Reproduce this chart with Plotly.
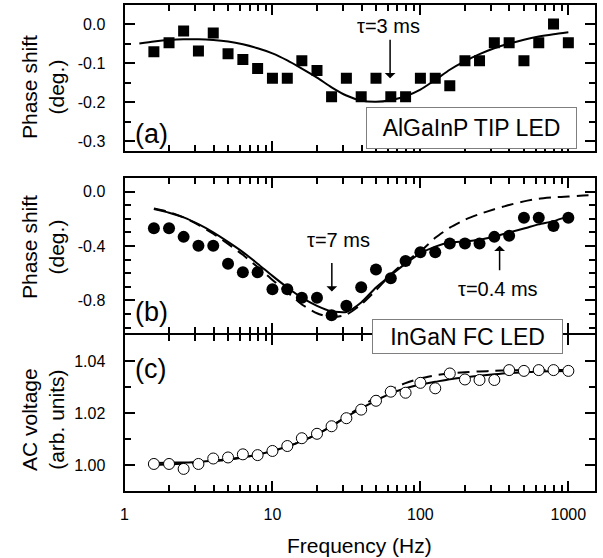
import math
import plotly.graph_objects as go

# ---------------- data ----------------
# measurement frequencies (Hz)
freq = [1.58, 2.0, 2.51, 3.16, 3.98, 5.01, 6.31, 7.94, 10.0, 12.6, 15.8, 20.0, 25.1,
        31.6, 39.8, 50.1, 63.1, 79.4, 100.0, 126.0, 158.0, 200.0, 251.0, 316.0,
        398.0, 501.0, 631.0, 794.0, 1000.0]

# (a) AlGaInP TIP LED phase shift (deg.)
phase_tip = [-0.071, -0.048, -0.018, -0.069, -0.023, -0.076, -0.091, -0.114, -0.139,
             -0.139, -0.094, -0.119, -0.186, -0.139, -0.186, -0.139, -0.186, -0.186,
             -0.139, -0.139, -0.158, -0.094, -0.094, -0.048, -0.048, -0.094, -0.048,
             0.0, -0.048]

# (b) InGaN FC LED phase shift (deg.)
phase_fc = [-0.27, -0.27, -0.333, -0.398, -0.398, -0.53, -0.593, -0.593, -0.718,
            -0.718, -0.781, -0.781, -0.909, -0.839, -0.703, -0.573, -0.638, -0.511,
            -0.446, -0.446, -0.381, -0.381, -0.381, -0.333, -0.325, -0.193, -0.193,
            -0.253, -0.193]

# (c) InGaN FC LED AC voltage (arb. units)
acv_fc = [1.0004, 1.0004, 0.9985, 1.0004, 1.0025, 1.0029, 1.0041, 1.0038, 1.0054,
          1.0073, 1.0103, 1.0120, 1.0149, 1.0180, 1.0213, 1.0247, 1.0282, 1.0278,
          1.0316, 1.0295, 1.0352, 1.0329, 1.0327, 1.0327, 1.0365, 1.0362, 1.0365,
          1.0365, 1.0362]

# model curves
fit_freq_a = [1.26, 1.58, 2.0, 2.51, 3.16, 3.98, 5.01, 6.31, 7.94, 10.0, 12.6, 15.8,
              20.0, 25.1, 31.6, 39.8, 50.1, 63.1, 79.4, 100.0, 126.0, 158.0, 200.0,
              251.0, 316.0, 398.0, 501.0, 631.0, 794.0, 1000.0]
fit_a = [-0.050, -0.045, -0.041, -0.039, -0.039, -0.041, -0.045, -0.052, -0.062, -0.075,
         -0.093, -0.114, -0.137, -0.162, -0.183, -0.196, -0.199, -0.195, -0.185, -0.168,
         -0.143, -0.117, -0.095, -0.077, -0.062, -0.050, -0.040, -0.032, -0.026, -0.021]

fit_freq_b = [1.58, 2.0, 2.51, 3.16, 3.98, 5.01, 6.31, 7.94, 10.0, 12.6, 15.8, 20.0,
              25.1, 31.6, 39.8, 50.1, 63.1, 79.4, 100.0, 126.0, 158.0, 200.0, 251.0,
              316.0, 398.0, 501.0, 631.0, 794.0, 1000.0]
fit_b_two = [-0.128, -0.155, -0.190, -0.240, -0.300, -0.370, -0.445, -0.530, -0.620,
             -0.705, -0.780, -0.840, -0.880, -0.885, -0.815, -0.705, -0.615, -0.530,
             -0.455, -0.405, -0.374, -0.366, -0.354, -0.330, -0.300, -0.272, -0.241,
             -0.217, -0.180]
dash_freq_b = [1.58, 2.0, 2.51, 3.16, 3.98, 5.01, 6.31, 7.94, 10.0, 12.6, 15.8, 20.0,
               25.1, 31.6, 39.8, 50.1, 63.1, 79.4, 100.0, 126.0, 158.0, 200.0, 251.0,
               316.0, 398.0, 501.0, 631.0, 794.0, 1000.0, 1259.0, 1514.0]
fit_b_one = [-0.125, -0.150, -0.190, -0.245, -0.310, -0.385, -0.465, -0.555, -0.650,
             -0.740, -0.830, -0.895, -0.925, -0.905, -0.830, -0.725, -0.610, -0.515,
             -0.440, -0.340, -0.265, -0.207, -0.165, -0.130, -0.098, -0.072, -0.052,
             -0.042, -0.036, -0.029, -0.024]

fit_freq_c = fit_freq_b
fit_c_two = [1.0008, 1.0009, 1.0010, 1.0012, 1.0016, 1.0022, 1.0030, 1.0040, 1.0054,
             1.0071, 1.0092, 1.0118, 1.0149, 1.0185, 1.0218, 1.0248, 1.0275, 1.0295,
             1.0310, 1.0320, 1.0330, 1.0337, 1.0343, 1.0349, 1.0354, 1.0357, 1.0360,
             1.0361, 1.0362]
fit_c_one = [1.0000, 1.0002, 1.0005, 1.0009, 1.0014, 1.0020, 1.0029, 1.0040, 1.0054,
             1.0071, 1.0092, 1.0118, 1.0150, 1.0187, 1.0225, 1.0260, 1.0290, 1.0315,
             1.0333, 1.0345, 1.0352, 1.0357, 1.0360, 1.0362, 1.0364, 1.0365, 1.0365,
             1.0365, 1.0365]

# tick labels
x_ticks = [1, 10, 100, 1000]
x_ticktext = ["1", "10", "100", "1000"]
x_minor = [m * d for d in (1, 10, 100) for m in range(2, 10)]
ya_ticks = [0.0, -0.1, -0.2, -0.3]
ya_text = ["0.0", "-0.1", "-0.2", "-0.3"]
yb_ticks = [0.0, -0.4, -0.8]
yb_text = ["0.0", "-0.4", "-0.8"]
yc_ticks = [1.00, 1.02, 1.04]
yc_text = ["1.00", "1.02", "1.04"]

# ---------------- layout helpers ----------------
W, H = 603, 558
FONT = "Liberation Sans, Arial, sans-serif"


def px(x):
    return x / W


def py(y):
    return 1 - y / H


X_DOM = [px(124.5), px(595)]
DOM_A = [py(151), py(4.5)]
DOM_B = [py(333), py(178)]
DOM_C = [py(491), py(335)]

fig = go.Figure()

line_solid = dict(color="black", width=2, shape="spline", smoothing=0.6)
line_dash = dict(color="black", width=2, dash="12px,7px", shape="spline", smoothing=0.6)

# (a)
fig.add_trace(go.Scatter(x=fit_freq_a, y=fit_a, mode="lines", line=line_solid,
                         xaxis="x", yaxis="y"))
fig.add_trace(go.Scatter(x=freq, y=phase_tip, mode="markers",
                         marker=dict(symbol="square", size=11, color="black"),
                         xaxis="x", yaxis="y"))
# (b)
fig.add_trace(go.Scatter(x=dash_freq_b, y=fit_b_one, mode="lines", line=line_dash,
                         xaxis="x2", yaxis="y2"))
fig.add_trace(go.Scatter(x=fit_freq_b, y=fit_b_two, mode="lines", line=line_solid,
                         xaxis="x2", yaxis="y2"))
fig.add_trace(go.Scatter(x=freq, y=phase_fc, mode="markers",
                         marker=dict(symbol="circle", size=12, color="black"),
                         xaxis="x2", yaxis="y2"))
# (c)
fig.add_trace(go.Scatter(x=fit_freq_c, y=fit_c_one, mode="lines", line=line_dash,
                         xaxis="x3", yaxis="y3"))
fig.add_trace(go.Scatter(x=fit_freq_c, y=fit_c_two, mode="lines", line=line_solid,
                         xaxis="x3", yaxis="y3"))
fig.add_trace(go.Scatter(x=freq, y=acv_fc, mode="markers",
                         marker=dict(symbol="circle", size=11, color="white",
                                     line=dict(color="black", width=1)),
                         xaxis="x3", yaxis="y3"))

common = dict(showline=True, linecolor="black", linewidth=2, mirror="allticks",
              ticks="inside", ticklen=10, tickwidth=1.5, tickcolor="black",
              showgrid=False, zeroline=False, automargin=False,
              tickfont=dict(family=FONT, size=16, color="black"))

minor_x = dict(tickvals=x_minor, ticks="inside", ticklen=6, tickwidth=1.5,
               tickcolor="black", showgrid=False)


def xaxis(anchor, labels):
    return dict(common, type="log", range=[0, math.log10(1514)], domain=X_DOM,
                anchor=anchor, tickvals=x_ticks, ticktext=x_ticktext,
                showticklabels=labels, ticklabelstandoff=8, minor=minor_x)


def yaxis(dom, rng, tv, tt, minor_vals):
    return dict(common, domain=dom, range=rng, tickvals=tv, ticktext=tt,
                ticklabelstandoff=14,
                minor=dict(tickvals=minor_vals, ticks="inside", ticklen=6,
                           tickwidth=1.5, tickcolor="black", showgrid=False))


fig.update_layout(
    width=W, height=H, margin=dict(l=0, r=0, t=0, b=0),
    paper_bgcolor="white", plot_bgcolor="white", showlegend=False,
    font=dict(family=FONT, color="black"),
    xaxis=xaxis("y", False),
    xaxis2=xaxis("y2", False),
    xaxis3=xaxis("y3", True),
    yaxis=yaxis(DOM_A, [-0.325, 0.05], ya_ticks, ya_text, [-0.05, -0.15, -0.25]),
    yaxis2=yaxis(DOM_B, [-1.04, 0.1], yb_ticks, yb_text,
                 [-0.1, -0.2, -0.3, -0.5, -0.6, -0.7, -0.9, -1.0]),
    yaxis3=yaxis(DOM_C, [0.99, 1.05], yc_ticks, yc_text, [1.01, 1.03]),
)


def label(text, x, y, size, **kw):
    return dict(text=text, xref="paper", yref="paper", x=px(x), y=py(y),
                xanchor=kw.pop("xanchor", "center"), yanchor="middle",
                showarrow=False, font=dict(family=FONT, size=size), **kw)


ann = []
# axis titles
ann.append(label("Frequency (Hz)", 360, 545, 21))
for text, yc in (("Phase shift<br>(deg.)", 87), ("Phase shift<br>(deg.)", 247),
                 ("AC voltage<br>(arb. units)", 420)):
    ann.append(label(text, 43, yc, 21, textangle=-90))

# panel letters
for letter, yc in (("(a)", 134), ("(b)", 312), ("(c)", 369)):
    ann.append(label(letter, 133, yc, 27, xanchor="left"))

# sample boxes
ann.append(label("AlGaInP TIP LED", 471.5, 128, 23, width=205, height=36, borderpad=2,
                 borderwidth=1, bordercolor="#7f7f7f", bgcolor="white"))
ann.append(label("InGaN FC LED", 467, 336, 23, width=185, height=29, borderpad=2,
                 borderwidth=1, bordercolor="#7f7f7f", bgcolor="white"))

# time-constant markers
arrow = dict(text="", showarrow=True, arrowhead=1, arrowsize=1.2, arrowwidth=1.5,
             arrowcolor="black", ax=0)
ann.append(dict(arrow, xref="x", yref="y", x=math.log10(62.4), y=-0.139, ay=-40))
ann.append(label("\u03c4=3 ms", 388, 26, 20))
ann.append(dict(arrow, xref="x2", yref="y2", x=math.log10(25.2), y=-0.735, ay=-30))
ann.append(label("\u03c4=7 ms", 338, 240, 20))
ann.append(dict(arrow, xref="x2", yref="y2", x=math.log10(343), y=-0.398, ay=26))
ann.append(label("\u03c4=0.4 ms", 498, 289, 20))

fig.update_layout(annotations=ann)
fig.write_html("out.html")
